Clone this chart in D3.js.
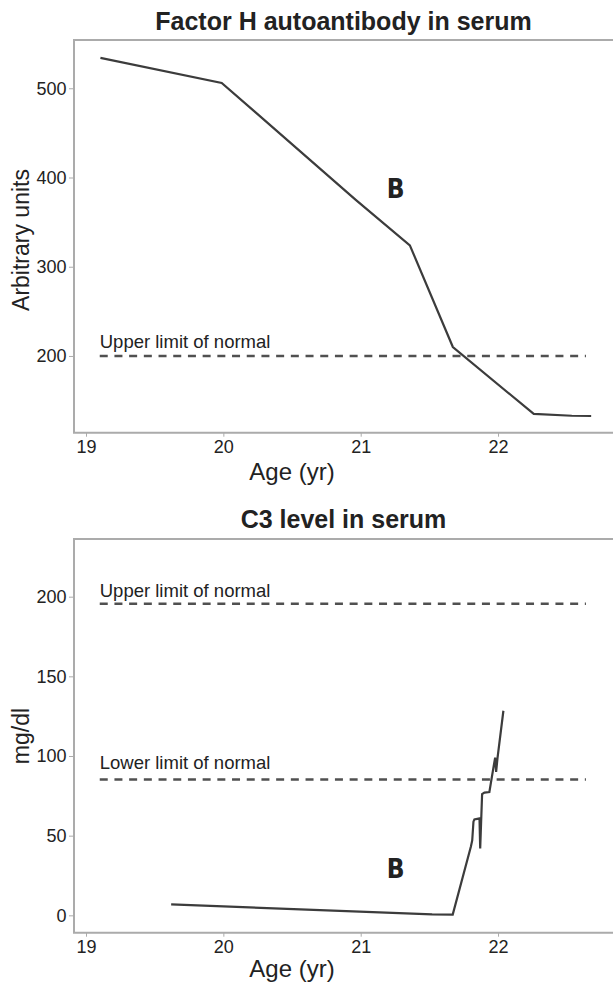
<!DOCTYPE html>
<html>
<head>
<meta charset="utf-8">
<script src="https://cdn.jsdelivr.net/npm/d3@7/dist/d3.min.js"></script>
<style>
  html, body { margin: 0; padding: 0; background: #fff; }
  svg { display: block; }
  text { font-family: "Liberation Sans", Arial, Helvetica, sans-serif; fill: #222; }
</style>
</head>
<body>
<script>
// ---------- data ----------
const xTicks = [19, 20, 21, 22];

// Panel 1: Factor H autoantibody in serum
const fhTitle = "Factor H autoantibody in serum";
const fhYLabel = "Arbitrary units";
const fhYTicks = [200, 300, 400, 500];
const fhAge = [19.105, 19.988, 20.964, 21.358, 21.671, 22.26, 22.537, 22.678];
const fhValue = [534, 506, 375, 324, 210, 135, 133, 132.7];
const fhUpperLimit = 200;

// Panel 2: C3 level in serum
const c3Title = "C3 level in serum";
const c3YLabel = "mg/dl";
const c3YTicks = [0, 50, 100, 150, 200];
const c3Age = [19.62, 21.52, 21.67, 21.802, 21.812, 21.821, 21.828, 21.865, 21.870, 21.884, 21.901, 21.937, 21.967, 21.979, 21.986, 21.996, 22.039];
const c3Value = [6.9, 0.6, 0.5, 43, 47, 58.8, 60.2, 60.9, 42, 76.1, 77, 77.4, 93, 99, 90, 98.6, 128.4];
const c3UpperLimit = 195.5;
const c3LowerLimit = 85.3;

const limitStart = 19.1, limitEnd = 22.64;
const xLabel = "Age (yr)";

// ---------- drawing ----------
const W = 613, H = 982;
const svg = d3.select("body").append("svg").attr("width", W).attr("height", H);

const x = d3.scaleLinear().domain([18.9126, 22.837]).range([74, 613]);

const axisColor = "#ababab";
const lineColor = "#3c3c3c";
const dashColor = "#505050";

function panel(cfg) {
  const y = d3.scaleLinear().domain(cfg.yDomain).range([cfg.bottom, cfg.top]);
  const g = svg.append("g");

  // frame (left, top, bottom)
  g.append("path")
    .attr("d", `M615,${cfg.top}H${x.range()[0]}V${cfg.bottom}H615`)
    .attr("fill", "none").attr("stroke", axisColor).attr("stroke-width", 2);

  // axes
  const xa = g.append("g").attr("transform", `translate(0,${cfg.bottom})`)
    .call(d3.axisBottom(x).tickValues(xTicks).tickFormat(d3.format("d")).tickSize(4).tickPadding(4).tickSizeOuter(0));
  xa.select(".domain").remove();
  xa.selectAll("line").attr("stroke", axisColor);
  xa.selectAll("text").style("font-size", "18px").attr("fill", "#222");

  const ya = g.append("g").attr("transform", `translate(${x.range()[0]},0)`)
    .call(d3.axisLeft(y).tickValues(cfg.yTicks).tickFormat(d3.format("d")).tickSize(5).tickPadding(2.5).tickSizeOuter(0));
  ya.select(".domain").remove();
  ya.selectAll("line").attr("stroke", axisColor);
  ya.selectAll("text").style("font-size", "18px").attr("fill", "#222");

  // title
  g.append("text").attr("x", 343.5).attr("y", cfg.titleY)
    .attr("text-anchor", "middle").style("font-size", "25px").style("font-weight", "bold")
    .text(cfg.title);

  // x label
  g.append("text").attr("x", 292).attr("y", cfg.xLabelY)
    .attr("text-anchor", "middle").style("font-size", "24px").text(xLabel);

  // y label
  g.append("text").attr("transform", `translate(29,${cfg.yLabelY}) rotate(-90)`)
    .attr("text-anchor", "middle").style("font-size", "23px").text(cfg.yLabel);

  // limit lines
  cfg.limits.forEach(l => {
    g.append("line")
      .attr("x1", x(limitStart)).attr("x2", x(limitEnd))
      .attr("y1", y(l.value)).attr("y2", y(l.value))
      .attr("stroke", dashColor).attr("stroke-width", 2.5)
      .attr("stroke-dasharray", "8,6.7");
    g.append("text").attr("x", x(limitStart)).attr("y", y(l.labelValue))
      .style("font-size", "18.5px").text(l.label);
  });

  // data line
  const pts = cfg.ages.map((a, i) => [a, cfg.values[i]]);
  g.append("path").datum(pts)
    .attr("d", d3.line().x(d => x(d[0])).y(d => y(d[1])))
    .attr("fill", "none").attr("stroke", lineColor).attr("stroke-width", 2.2)
    .attr("stroke-linejoin", "miter");

  // "B" label
  g.append("text").attr("x", x(21.19)).attr("y", y(cfg.bValue))
    .style("font-family", "'Liberation Sans Narrow', 'DejaVu Sans Condensed', sans-serif")
    .style("font-size", "26px").style("font-weight", "bold").attr("fill", "#2a2a2a")
    .text("B");
}

panel({
  top: 40, bottom: 432.7, yDomain: [114, 554.1], yTicks: fhYTicks,
  title: fhTitle, titleY: 30, xLabelY: 479.5, yLabel: fhYLabel, yLabelY: 240,
  ages: fhAge, values: fhValue, bValue: 376.5,
  limits: [{ value: fhUpperLimit, labelValue: 208.6, label: "Upper limit of normal" }]
});

panel({
  top: 539, bottom: 932.7, yDomain: [-10.9, 236.2], yTicks: c3YTicks,
  title: c3Title, titleY: 528.3, xLabelY: 977, yLabel: c3YLabel, yLabelY: 736,
  ages: c3Age, values: c3Value, bValue: 23.2,
  limits: [
    { value: c3UpperLimit, labelValue: 200, label: "Upper limit of normal" },
    { value: c3LowerLimit, labelValue: 91.7, label: "Lower limit of normal" }
  ]
});
</script>
</body>
</html>
